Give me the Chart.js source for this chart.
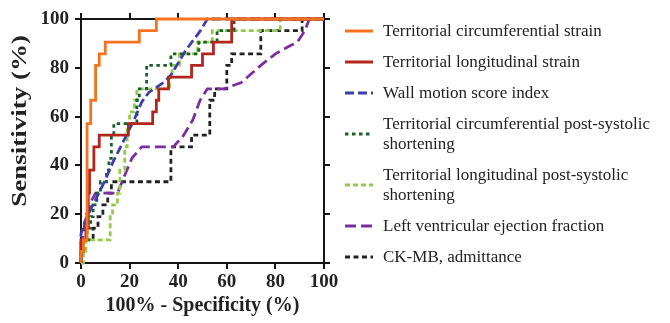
<!DOCTYPE html>
<html>
<head>
<meta charset="utf-8">
<script src="https://cdn.jsdelivr.net/npm/chart.js@4/dist/chart.umd.min.js"></script>
<style>
  html, body { margin: 0; padding: 0; background: #fff; }
  #wrap { position: relative; width: 670px; height: 323px; overflow: hidden; }
  #c { position: absolute; left: 0; top: 0; }
  #legend { position: absolute; left: 345px; top: 21px; display: flex; flex-direction: column; gap: 11px;
            font-family: "Liberation Serif", "Times New Roman", serif; font-size: 17px; color: #222; line-height: 20px; }
  .item { display: flex; align-items: center; white-space: nowrap; }
  .item svg { flex: none; margin-right: 10px; }
</style>
</head>
<body>
<div id="wrap">
  <canvas id="c" width="670" height="323"></canvas>
  <div id="legend"></div>
</div>
<script>
// ---- data ----
const xTitle = "100% - Specificity (%)";
const yTitle = "Sensitivity (%)";
const tickValues = [0, 20, 40, 60, 80, 100];

const seriesNames = [
  ["Territorial circumferential strain"],
  ["Territorial longitudinal strain"],
  ["Wall motion score index"],
  ["Territorial circumferential post-systolic", "shortening"],
  ["Territorial longitudinal post-systolic", "shortening"],
  ["Left ventricular ejection fraction"],
  ["CK-MB, admittance"]
];

const tcsX = [0,0,1,1,2.5,2.5,4,4,6,6,7.5,7.5,10,10,24,24,31,31,100];
const tcsY = [0,4.8,4.8,9.5,9.5,57.1,57.1,66.7,66.7,81,81,85.7,85.7,90.5,90.5,95.2,95.2,100,100];

const tlsX = [0,0,2,2,3,3,3.5,3.5,5.3,5.3,7.5,7.5,19.5,19.5,29.5,29.5,31,31,32,32,36,36,45.5,45.5,50,50,54.5,54.5,62,62,100];
const tlsY = [0,9.5,9.5,14.3,14.3,28.6,28.6,38.1,38.1,47.6,47.6,52.4,52.4,57.1,57.1,61.9,61.9,66.7,66.7,71.4,71.4,76.2,76.2,81,81,85.7,85.7,90.5,90.5,100,100];

const wmsiX = [0,0,2,6,10,13,16,19,22,25,28,31,34,37,40,43,46,49,52,100];
const wmsiY = [0,12,18,26,34,41,47,53,59,66,70,72,74,77,82,87,91,95,100,100];

const tcpssX = [0,0,1,1,2.5,2.5,4,4,5,5,6.5,6.5,8,8,10.5,10.5,11.5,11.5,12.5,12.5,13.5,13.5,23,23,24,24,27,27,37,37,48.5,48.5,56,56,63,63,100];
const tcpssY = [0,4.8,4.8,9.5,9.5,14.3,14.3,19,19,23.8,23.8,28.6,28.6,33.3,33.3,38.1,38.1,42.9,42.9,52.4,52.4,57.1,57.1,66.7,66.7,71.4,71.4,81,81,85.7,85.7,90.5,90.5,95.2,95.2,100,100];

const tlpssX = [0,1,1,2,2,12,12,13,13,15,15,16,16,18,18,19,19,20,20,22,22,23,23,36.5,36.5,37.5,37.5,40.5,40.5,48,48,54,54,82,82,100];
const tlpssY = [0,0,4.8,4.8,9.5,9.5,19,19,23.8,23.8,28.6,28.6,38.1,38.1,47.6,47.6,57.1,57.1,61.9,61.9,66.7,66.7,71.4,71.4,76.2,76.2,81,81,85.7,85.7,90.5,90.5,95.2,95.2,100,100];

const lvefX = [0,0.5,2,4,6,15,18,21,25,38,42,46,49,52,59,66,74,80,86,89,92,94,100];
const lvefY = [0,9.5,19,25,28.6,28.6,36,43,47.6,47.6,52,58.6,66.7,71.4,71.4,74,81,85.7,89,90.5,95,100,100];

const ckmbX = [0,0,1,5,5,7,7,9,9,11,11,12.5,12.5,37,37,45.5,45.5,53,53,55,55,60,60,62,62,74,74,91,91,100];
const ckmbY = [0,4.8,9.5,9.5,14.3,14.3,19,19,23.8,23.8,28.6,28.6,33.3,33.3,47.6,47.6,52.4,52.4,66.7,66.7,71.4,71.4,81,81,85.7,85.7,95.2,95.2,100,100];

// ---- styles ----
const styles = [
  { color: '#f5731e', dash: [] },
  { color: '#b3261e', dash: [] },
  { color: '#3b3fae', dash: [9, 4] },
  { color: '#19602a', dash: [3.5, 3.5] },
  { color: '#93cc4a', dash: [5, 3] },
  { color: '#7d2fa0', dash: [11, 5] },
  { color: '#222222', dash: [5, 3.5] }
];

const zip = (xs, ys) => xs.map((x, i) => ({ x: x, y: ys[i] }));
const allX = [tcsX, tlsX, wmsiX, tcpssX, tlpssX, lvefX, ckmbX];
const allY = [tcsY, tlsY, wmsiY, tcpssY, tlpssY, lvefY, ckmbY];

const datasets = seriesNames.map((name, i) => ({
  label: name.join(' '),
  data: zip(allX[i], allY[i]),
  borderColor: styles[i].color,
  backgroundColor: styles[i].color,
  borderDash: styles[i].dash,
  borderWidth: 2.8,
  pointRadius: 0,
  tension: 0,
  fill: false,
  clip: 4
}));

const FONT = '"Liberation Serif", "Times New Roman", serif';
const axisColor = '#151515';

function axis(pos, showLabels, fitFn) {
  return {
    type: 'linear',
    position: pos,
    min: 0, max: 100,
    afterBuildTicks: s => { s.ticks = tickValues.map(v => ({ value: v })); },
    ticks: {
      display: showLabels,
      color: '#222',
      font: { family: FONT, size: 19, weight: 'bold' },
      padding: pos === 'left' ? 6 : 2
    },
    grid: { display: true, drawOnChartArea: false, drawTicks: true, tickLength: 6, color: axisColor, lineWidth: 2 },
    border: { display: true, color: axisColor, width: 2 },
    afterFit: fitFn
  };
}

const yTitlePlugin = {
  id: 'yTitle',
  afterDraw(chart) {
    const ctx = chart.ctx;
    ctx.save();
    ctx.translate(21, 121);
    ctx.rotate(-Math.PI / 2);
    ctx.scale(1.35, 1);
    ctx.font = 'bold 20px ' + FONT;
    ctx.fillStyle = '#222';
    ctx.textAlign = 'center';
    ctx.textBaseline = 'middle';
    ctx.fillText(yTitle, 0, 0);
    ctx.restore();
  }
};

const xScale = axis('bottom', true, s => { s.height = 60; });
xScale.title = { display: true, text: xTitle, color: '#222', font: { family: FONT, size: 20, weight: 'bold' }, padding: { top: 2, bottom: 5 } };

new Chart(document.getElementById('c'), {
  type: 'line',
  data: { datasets: datasets },
  options: {
    responsive: false,
    animation: false,
    devicePixelRatio: 1,
    parsing: true,
    layout: { padding: { top: 9, right: 336, bottom: 0, left: 0 } },
    plugins: { legend: { display: false }, tooltip: { enabled: false } },
    scales: {
      x: xScale,
      x2: axis('top', false, s => { s.height = 10; }),
      y: axis('left', true, s => { s.width = 81; }),
      y2: axis('right', false, s => { s.width = 10; })
    }
  },
  plugins: [yTitlePlugin]
});

// ---- HTML legend ----
const legend = document.getElementById('legend');
seriesNames.forEach((lines, i) => {
  const item = document.createElement('div');
  item.className = 'item';
  const ns = 'http://www.w3.org/2000/svg';
  const svg = document.createElementNS(ns, 'svg');
  svg.setAttribute('width', '28');
  svg.setAttribute('height', '6');
  const ln = document.createElementNS(ns, 'line');
  ln.setAttribute('x1', '0'); ln.setAttribute('y1', '3');
  ln.setAttribute('x2', '28'); ln.setAttribute('y2', '3');
  ln.setAttribute('stroke', styles[i].color);
  ln.setAttribute('stroke-width', '3');
  if (styles[i].dash.length) ln.setAttribute('stroke-dasharray', styles[i].dash.join(' '));
  svg.appendChild(ln);
  item.appendChild(svg);
  const txt = document.createElement('div');
  lines.forEach((t, k) => {
    if (k) txt.appendChild(document.createElement('br'));
    txt.appendChild(document.createTextNode(t));
  });
  item.appendChild(txt);
  legend.appendChild(item);
});
</script>
</body>
</html>
